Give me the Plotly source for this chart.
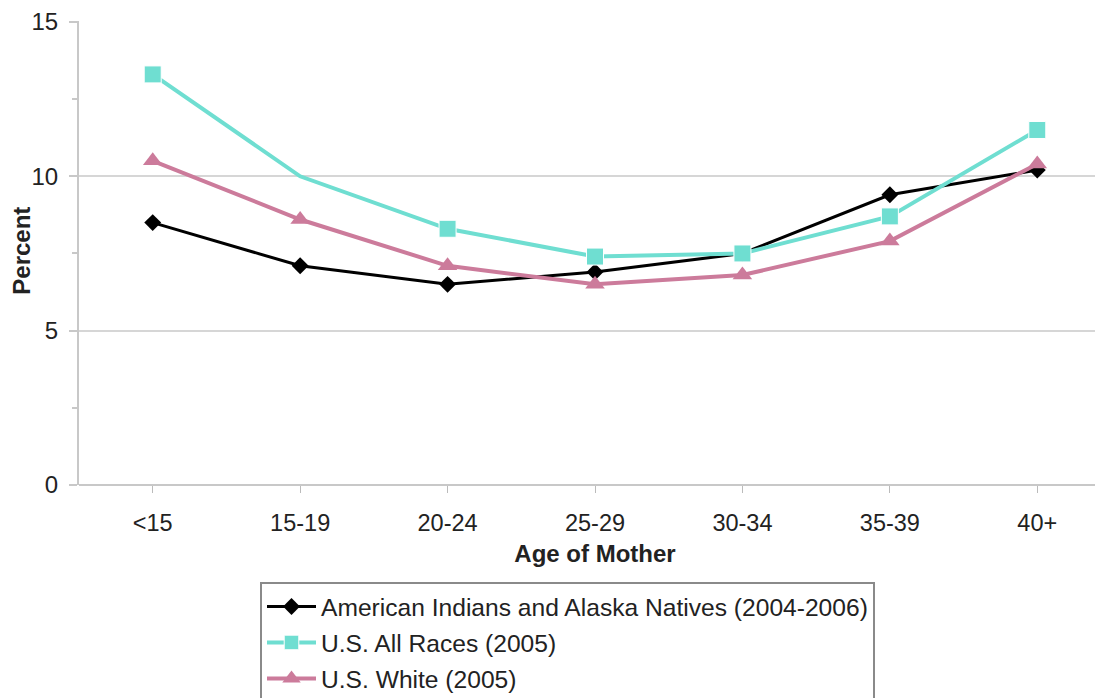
import plotly.graph_objects as go

# Age groups on the x axis
age_groups = ["<15", "15-19", "20-24", "25-29", "30-34", "35-39", "40+"]

# Percent values
aian = [8.5, 7.1, 6.5, 6.9, 7.5, 9.4, 10.2]
us_all = [13.3, 10.0, 8.3, 7.4, 7.5, 8.7, 11.5]
us_white = [10.5, 8.6, 7.1, 6.5, 6.8, 7.9, 10.4]

series_names = [
    "American Indians and Alaska Natives (2004-2006)",
    "U.S. All Races (2005)",
    "U.S. White (2005)",
]

y_ticks = [0, 5, 10, 15]

FONT = "Liberation Sans, Arial, sans-serif"
CYAN = "#6fded1"
PINK = "#cc7b9b"
W, H = 1103, 698

fig = go.Figure()

fig.add_trace(go.Scatter(
    x=age_groups, y=aian, name=series_names[0], legendgroup="a",
    mode="lines+markers",
    line=dict(color="black", width=3),
    marker=dict(symbol="diamond", size=13, color="black"),
))
fig.add_trace(go.Scatter(
    x=age_groups, y=us_all, name=series_names[1], legendgroup="b",
    mode="lines+markers",
    line=dict(color=CYAN, width=4),
    # the 15-19 point shows no marker in the original
    marker=dict(symbol="square", size=[17, 0, 17, 17, 17, 17, 17],
                color=CYAN, opacity=1),
))
fig.add_trace(go.Scatter(
    x=age_groups, y=us_white, name=series_names[2], legendgroup="c",
    mode="lines+markers",
    line=dict(color=PINK, width=4),
    marker=dict(symbol="triangle-up", size=17, color=PINK),
))

fig.update_layout(
    width=W,
    height=H,
    margin=dict(l=71, r=0, t=13, b=221, autoexpand=False),
    paper_bgcolor="white",
    plot_bgcolor="white",
    font=dict(family=FONT, size=24, color="#222222"),
    showlegend=True,
    legend=dict(
        xref="container", yref="container",
        x=252 / W, y=1 - 574 / H,
        xanchor="left", yanchor="top",
        bordercolor="#8a8a8a", borderwidth=2,
        bgcolor="white",
        font=dict(family=FONT, size=24.6, color="#222222"),
        traceorder="grouped",
        tracegroupgap=1,
        itemwidth=49,
    ),
    xaxis=dict(
        range=[-0.5, 6.5],
        showgrid=False,
        showline=False,
        tickangle=0,
        ticks="outside", ticklen=7, tickwidth=1, tickcolor="#bbbbbb",
        ticklabelstandoff=10,
        tickfont=dict(family=FONT, size=23.5, color="#222222"),
        title=dict(text="<b>Age of Mother</b>", standoff=9,
                   font=dict(family=FONT, size=24, color="#222222")),
        zeroline=False,
    ),
    yaxis=dict(
        range=[0, 15.03],
        tickvals=y_ticks,
        showgrid=True, gridcolor="#d6d6d6", gridwidth=2,
        showline=True, linecolor="#c8c8c8", linewidth=2,
        ticks="outside", ticklen=8, tickwidth=2, tickcolor="#c8c8c8",
        minor=dict(dtick=2.5, ticks="outside", ticklen=5, tickcolor="#c8c8c8",
                   showgrid=False),
        ticklabelstandoff=6,
        ticklabeloverflow="allow",
        tickfont=dict(family=FONT, size=24, color="#222222"),
        zeroline=True, zerolinecolor="#c8c8c8", zerolinewidth=2,
    ),
    annotations=[dict(
        text="<b>Percent</b>", textangle=-90,
        xref="paper", yref="paper",
        x=(14 - 71) / (W - 71), y=0.505,
        xanchor="center", yanchor="middle",
        showarrow=False,
        font=dict(family=FONT, size=24, color="#222222"),
    )],
)

fig.write_html("out.html")
